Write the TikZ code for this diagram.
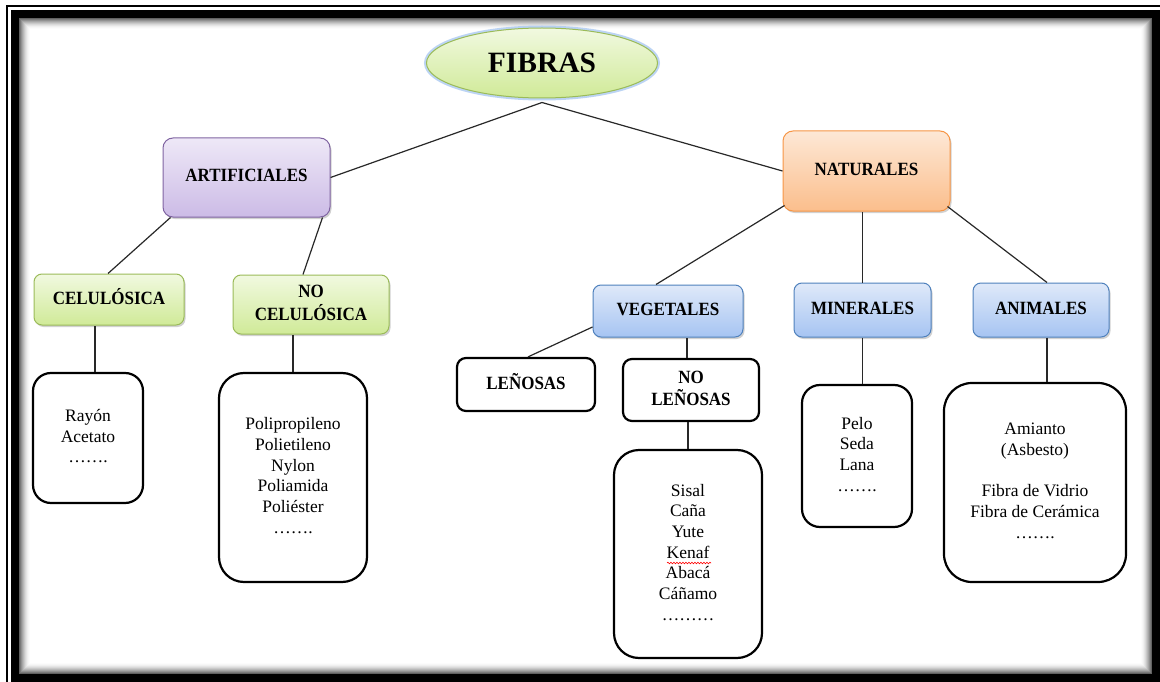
\documentclass[tikz,border=0pt]{standalone}
\usepackage{fontspec}
\setmainfont{Liberation Serif}
\usepackage{graphicx}
\usetikzlibrary{shapes.geometric,shadows,decorations.pathmorphing}
\definecolor{grnT}{RGB}{241,249,224}
\definecolor{grnB}{RGB}{208,234,152}
\definecolor{grnD}{RGB}{155,187,89}
\definecolor{purT}{RGB}{238,232,247}
\definecolor{purB}{RGB}{204,187,230}
\definecolor{purD}{RGB}{128,100,162}
\definecolor{orgT}{RGB}{253,232,214}
\definecolor{orgB}{RGB}{251,190,140}
\definecolor{orgD}{RGB}{247,150,70}
\definecolor{bluT}{RGB}{223,233,249}
\definecolor{bluB}{RGB}{166,196,242}
\definecolor{bluD}{RGB}{79,129,189}
\definecolor{glow}{RGB}{160,195,240}
\definecolor{linec}{RGB}{40,40,40}
\newcommand{\bltext}[1]{\scalebox{1}[1.1]{\fontsize{17}{20}\selectfont\bfseries\begin{tabular}{@{}c@{}}#1\end{tabular}}}
\newcommand{\rgtext}[1]{{\fontsize{17.5}{20.7}\selectfont\begin{tabular}{@{}c@{}}#1\end{tabular}}}
\begin{document}
\begin{tikzpicture}[x=1pt,y=-1pt,
  cbox/.style={rounded corners=10pt, inner sep=0pt, line width=1pt,
    drop shadow={shadow xshift=1.5pt, shadow yshift=-2pt, fill=black, opacity=0.18}},
  greenbox/.style={cbox, draw=grnD, top color=grnT, bottom color=grnB},
  purplebox/.style={cbox, draw=purD, top color=purT, bottom color=purB},
  orangebox/.style={cbox, draw=orgD, top color=orgT, bottom color=orgB},
  bluebox/.style={cbox, draw=bluD, top color=bluT, bottom color=bluB},
  blackbox/.style={draw=black, line width=2.2pt, fill=white, inner sep=0pt},
  conn/.style={draw=linec, line width=1.2pt}
]
\useasboundingbox (0,0) rectangle (1160,682);
% frame
\fill[white] (0,0) rectangle (1160,682);
\draw[line width=1.3pt] (7,6) rectangle (1170,692);
\foreach \i/\g in {0/62,1/52,2/43,3/35,4/28,5/21,6/15,7/10,8/6,9/3,10/1}{
  \draw[black!\g, line width=1.05pt] (19.5+\i,18.5+\i) rectangle (1151.5-\i,673.5-\i);
}
\draw[line width=8pt] (15,14) rectangle (1156,678);

% top node
\node[ellipse, draw=glow, line width=5pt, opacity=0.7, minimum width=231pt, minimum height=70pt] (fibglow) at (542,63) {};
\node[ellipse, draw=grnD, line width=1pt, top color=grnT, bottom color=grnB, minimum width=231pt, minimum height=70pt, inner sep=0pt] (fib) at (542,63)
  {\fontsize{29.5}{32}\selectfont\bfseries FIBRAS};

% second level
\node[purplebox, minimum width=167pt, minimum height=79pt] (art) at (246.5,177.5) {\bltext{ARTIFICIALES}};
\node[orangebox, minimum width=167pt, minimum height=80pt] (nat) at (866.5,171) {\bltext{NATURALES}};

% third level
\node[greenbox, rounded corners=8pt, minimum width=150pt, minimum height=51pt] (cel) at (109,299.5) {\bltext{CELULÓSICA}};
\node[greenbox, rounded corners=8pt, minimum width=156pt, minimum height=59pt] (nocel) at (311,304.5) {\bltext{NO\\CELULÓSICA}};
\node[bluebox, rounded corners=8pt, minimum width=150pt, minimum height=52pt] (veg) at (668,311) {\bltext{VEGETALES}};
\node[bluebox, rounded corners=8pt, minimum width=137pt, minimum height=54pt] (min) at (862.5,310) {\bltext{MINERALES}};
\node[bluebox, rounded corners=8pt, minimum width=136pt, minimum height=54pt] (anim) at (1041,310) {\bltext{ANIMALES}};

% vegetales children
\node[blackbox, rounded corners=9pt, minimum width=138pt, minimum height=53pt] (len) at (526,384.5) {\bltext{LEÑOSAS}};
\node[blackbox, rounded corners=9pt, minimum width=136pt, minimum height=62pt] (nolen) at (691,390) {\bltext{NO\\LEÑOSAS}};

% lists
\node[blackbox, rounded corners=18pt, minimum width=110pt, minimum height=130pt] (cellist) at (88,438)
  {\rgtext{Rayón\\Acetato\\…….}};
\node[blackbox, rounded corners=25pt, minimum width=148pt, minimum height=209pt] (nocellist) at (293,477.5)
  {\rgtext{Polipropileno\\Polietileno\\Nylon\\Poliamida\\Poliéster\\…….}};
\node[blackbox, rounded corners=25pt, minimum width=148pt, minimum height=208pt] (veglist) at (688,554)
  {\rgtext{Sisal\\Caña\\Yute\\Kenaf\\Abacá\\Cáñamo\\………}};
\node[blackbox, rounded corners=18pt, minimum width=110pt, minimum height=142pt] (minlist) at (857,456)
  {\rgtext{Pelo\\Seda\\Lana\\…….}};
\node[blackbox, rounded corners=28pt, minimum width=182pt, minimum height=199pt] (animlist) at (1035,482.5)
  {\rgtext{Amianto\\(Asbesto)\\ \\Fibra de Vidrio\\Fibra de Cerámica\\…….}};

% spell-check underline under Kenaf
\draw[red, line width=0.6pt, decorate, decoration={snake, segment length=3pt, amplitude=0.8pt}] (667,563) -- (711,563);

% connectors
\coordinate (fibtip) at ([yshift=-4pt]fib.south);
\draw[conn] (art.east) -- (fibtip);
\draw[conn] (fibtip) -- (nat.west);
\draw[conn] ([xshift=8pt]art.south west) -- ([xshift=-1pt]cel.north);
\draw[conn] ([xshift=-8pt]art.south east) -- ([xshift=-8pt]nocel.north);
\draw[conn] ([xshift=7pt]cellist.north) -- ([xshift=7pt]cellist.north |- cel.south);
\draw[conn] (nocellist.north) -- (nocellist.north |- nocel.south);
\draw[conn] ([xshift=2pt,yshift=6pt]nat.south west) -- ([xshift=-12pt]veg.north);
\draw[conn] (min.north) -- (min.north |- nat.south);
\draw[conn] ([xshift=-3pt,yshift=5pt]nat.south east) -- ([xshift=6pt]anim.north);
\draw[conn] ([yshift=-16pt]veg.west) -- ([xshift=2pt]len.north);
\draw[conn] ([xshift=-4pt]nolen.north) -- ([xshift=-4pt]nolen.north |- veg.south);
\draw[conn] (veglist.north) -- (veglist.north |- nolen.south);
\draw[conn] (min.south) -- (min.south |- minlist.north);
\draw[conn] ([xshift=6pt]anim.south) -- ([xshift=6pt]anim.south |- animlist.north);
\end{tikzpicture}
\end{document}
